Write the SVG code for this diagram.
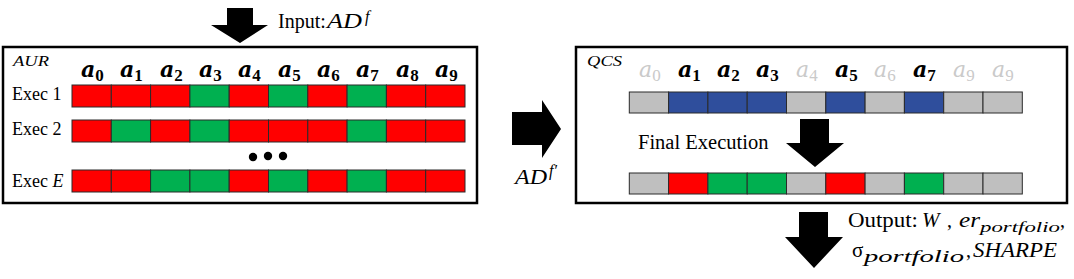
<svg xmlns="http://www.w3.org/2000/svg" width="1074" height="279" viewBox="0 0 1074 279">
<style>
text{font-family:"Liberation Serif","Times New Roman",serif;fill:#000}
.lbl{font-size:18px}
.it{font-style:italic}
.h{font-family:"DejaVu Serif",serif;font-size:22px;font-weight:bold;font-style:italic}
.hs{font-family:"Liberation Serif",serif;font-size:17px;font-weight:bold;font-style:normal}
.f{fill:#CACACA;font-weight:normal}
.box{fill:none;stroke:#000;stroke-width:2.5}
.c{stroke:#2a2a2a;stroke-width:1}
.r{fill:#FF0000}.g{fill:#00B050}.b{fill:#2F4E9C}.y{fill:#BFBFBF}
.arr{fill:#000}
</style>
<g id="connectors">
<polygon class="arr" points="227,8 253,8 253,25 268,25 240,43 211,25 227,25"/>
<polygon class="arr" points="512,112 542,112 542,100 561,129 542,158 542,145 512,145"/>
<polygon class="arr" points="800,119 829,119 829,143 844,143 815,167 786,143 800,143"/>
<polygon class="arr" points="799,212 828,212 828,237 843,237 814,268 785,237 799,237"/>
</g>
<g id="input-label">
<text x="278" y="28" font-size="20">Input:</text>
<text x="327" y="28" font-size="20" class="it" textLength="35" lengthAdjust="spacingAndGlyphs">AD</text>
<text x="365" y="22" font-size="16" class="it">f</text>
</g>
<g id="adf-label">
<text x="515" y="184" font-size="20" class="it" textLength="32" lengthAdjust="spacingAndGlyphs">AD</text>
<text x="549" y="176" font-size="16" class="it">f′</text>
</g>
<g id="AUR">
<rect class="box" x="3" y="47" width="474" height="156"/>
<text x="13" y="66" font-size="15" class="it" textLength="36" lengthAdjust="spacingAndGlyphs">AUR</text>
<g id="aur-headers">
<text x="81" y="77" class="h">a<tspan class="hs" dy="4">0</tspan></text>
<text x="120" y="77" class="h">a<tspan class="hs" dy="4">1</tspan></text>
<text x="160" y="77" class="h">a<tspan class="hs" dy="4">2</tspan></text>
<text x="199" y="77" class="h">a<tspan class="hs" dy="4">3</tspan></text>
<text x="238" y="77" class="h">a<tspan class="hs" dy="4">4</tspan></text>
<text x="278" y="77" class="h">a<tspan class="hs" dy="4">5</tspan></text>
<text x="317" y="77" class="h">a<tspan class="hs" dy="4">6</tspan></text>
<text x="356" y="77" class="h">a<tspan class="hs" dy="4">7</tspan></text>
<text x="396" y="77" class="h">a<tspan class="hs" dy="4">8</tspan></text>
<text x="435" y="77" class="h">a<tspan class="hs" dy="4">9</tspan></text>
</g>
<g id="exec1">
<text x="12" y="100" class="lbl">Exec 1</text>
<rect class="c r" x="72" y="85" width="39.3" height="22"/>
<rect class="c r" x="111.3" y="85" width="39.3" height="22"/>
<rect class="c r" x="150.6" y="85" width="39.3" height="22"/>
<rect class="c g" x="189.9" y="85" width="39.3" height="22"/>
<rect class="c r" x="229.2" y="85" width="39.3" height="22"/>
<rect class="c g" x="268.5" y="85" width="39.3" height="22"/>
<rect class="c r" x="307.8" y="85" width="39.3" height="22"/>
<rect class="c g" x="347.1" y="85" width="39.3" height="22"/>
<rect class="c r" x="386.4" y="85" width="39.3" height="22"/>
<rect class="c r" x="425.7" y="85" width="39.3" height="22"/>
</g>
<g id="exec2">
<text x="12" y="135" class="lbl">Exec 2</text>
<rect class="c r" x="72" y="120" width="39.3" height="22"/>
<rect class="c g" x="111.3" y="120" width="39.3" height="22"/>
<rect class="c r" x="150.6" y="120" width="39.3" height="22"/>
<rect class="c g" x="189.9" y="120" width="39.3" height="22"/>
<rect class="c r" x="229.2" y="120" width="39.3" height="22"/>
<rect class="c r" x="268.5" y="120" width="39.3" height="22"/>
<rect class="c r" x="307.8" y="120" width="39.3" height="22"/>
<rect class="c g" x="347.1" y="120" width="39.3" height="22"/>
<rect class="c r" x="386.4" y="120" width="39.3" height="22"/>
<rect class="c r" x="425.7" y="120" width="39.3" height="22"/>
</g>
<g id="dots">
<circle cx="253" cy="157" r="4.2"/>
<circle cx="268" cy="156" r="4.2"/>
<circle cx="283" cy="156" r="4.2"/>
</g>
<g id="execE">
<text x="12" y="187" class="lbl">Exec <tspan class="it">E</tspan></text>
<rect class="c r" x="72" y="170" width="39.3" height="22"/>
<rect class="c r" x="111.3" y="170" width="39.3" height="22"/>
<rect class="c g" x="150.6" y="170" width="39.3" height="22"/>
<rect class="c g" x="189.9" y="170" width="39.3" height="22"/>
<rect class="c r" x="229.2" y="170" width="39.3" height="22"/>
<rect class="c g" x="268.5" y="170" width="39.3" height="22"/>
<rect class="c r" x="307.8" y="170" width="39.3" height="22"/>
<rect class="c g" x="347.1" y="170" width="39.3" height="22"/>
<rect class="c r" x="386.4" y="170" width="39.3" height="22"/>
<rect class="c r" x="425.7" y="170" width="39.3" height="22"/>
</g>
</g>
<g id="QCS">
<rect class="box" x="576" y="47" width="491" height="156"/>
<text x="587" y="66" font-size="15" class="it" textLength="35" lengthAdjust="spacingAndGlyphs">QCS</text>
<g id="qcs-headers">
<text x="639" y="77" class="h f">a<tspan class="hs f" dy="4">0</tspan></text>
<text x="678" y="77" class="h">a<tspan class="hs" dy="4">1</tspan></text>
<text x="717" y="77" class="h">a<tspan class="hs" dy="4">2</tspan></text>
<text x="756" y="77" class="h">a<tspan class="hs" dy="4">3</tspan></text>
<text x="796" y="77" class="h f">a<tspan class="hs f" dy="4">4</tspan></text>
<text x="835" y="77" class="h">a<tspan class="hs" dy="4">5</tspan></text>
<text x="874" y="77" class="h f">a<tspan class="hs f" dy="4">6</tspan></text>
<text x="913" y="77" class="h">a<tspan class="hs" dy="4">7</tspan></text>
<text x="953" y="77" class="h f">a<tspan class="hs f" dy="4">9</tspan></text>
<text x="992" y="77" class="h f">a<tspan class="hs f" dy="4">9</tspan></text>
</g>
<g id="qcs-row">
<rect class="c y" x="629.3" y="92" width="39.3" height="21"/>
<rect class="c b" x="668.6" y="92" width="39.3" height="21"/>
<rect class="c b" x="707.9" y="92" width="39.3" height="21"/>
<rect class="c b" x="747.2" y="92" width="39.3" height="21"/>
<rect class="c y" x="786.5" y="92" width="39.3" height="21"/>
<rect class="c b" x="825.8" y="92" width="39.3" height="21"/>
<rect class="c y" x="865.1" y="92" width="39.3" height="21"/>
<rect class="c b" x="904.4" y="92" width="39.3" height="21"/>
<rect class="c y" x="943.7" y="92" width="39.3" height="21"/>
<rect class="c y" x="983" y="92" width="39.3" height="21"/>
</g>
<text x="638" y="149" font-size="20.5">Final Execution</text>
<g id="final-row">
<rect class="c y" x="629.3" y="173" width="39.3" height="21"/>
<rect class="c r" x="668.6" y="173" width="39.3" height="21"/>
<rect class="c g" x="707.9" y="173" width="39.3" height="21"/>
<rect class="c g" x="747.2" y="173" width="39.3" height="21"/>
<rect class="c y" x="786.5" y="173" width="39.3" height="21"/>
<rect class="c r" x="825.8" y="173" width="39.3" height="21"/>
<rect class="c y" x="865.1" y="173" width="39.3" height="21"/>
<rect class="c g" x="904.4" y="173" width="39.3" height="21"/>
<rect class="c y" x="943.7" y="173" width="39.3" height="21"/>
<rect class="c y" x="983" y="173" width="39.3" height="21"/>
</g>
</g>
<g id="output-label">
<text x="848" y="227" font-size="20" textLength="70" lengthAdjust="spacingAndGlyphs">Output:</text>
<text x="922" y="227" font-size="21" class="it">W</text>
<text x="947" y="227" font-size="20">,</text>
<text x="959" y="227" font-size="21" class="it" textLength="21" lengthAdjust="spacingAndGlyphs">er</text>
<text x="980" y="232" font-size="15" class="it" textLength="80" lengthAdjust="spacingAndGlyphs">portfolio</text>
<text x="1060" y="227" font-size="20">,</text>
<text x="852" y="257" font-size="21">σ</text>
<text x="864" y="262" font-size="16" class="it" textLength="100" lengthAdjust="spacingAndGlyphs">portfolio</text>
<text x="966" y="257" font-size="20">,</text>
<text x="973" y="257" font-size="20" class="it" textLength="84" lengthAdjust="spacingAndGlyphs">SHARPE</text>
</g>
</svg>
